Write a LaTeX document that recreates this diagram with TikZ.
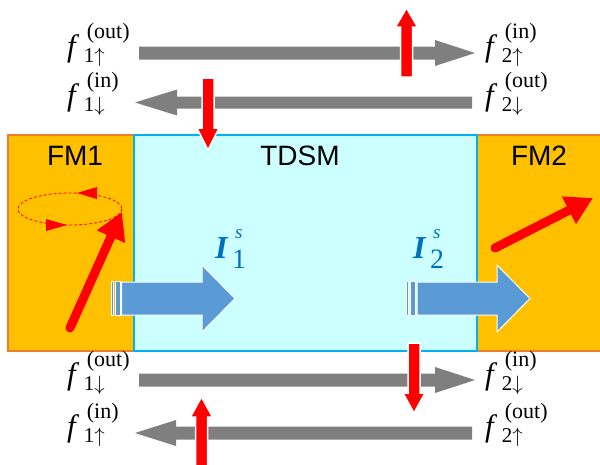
\documentclass[tikz,border=0pt]{standalone}
\usepackage{fontspec}
\setmainfont{Liberation Serif}
\newfontfamily\arialfont{Liberation Sans}
\usetikzlibrary{arrows.meta}
\definecolor{fmfill}{HTML}{FFC000}
\definecolor{fmline}{HTML}{ED7D31}
\definecolor{tdfill}{HTML}{CCFFFF}
\definecolor{tdline}{HTML}{00B0F0}
\definecolor{arrgray}{HTML}{7F7F7F}
\definecolor{spinblue}{HTML}{5B9BD5}
\definecolor{labblue}{HTML}{0070C0}
\newcommand\flab[3]{{\fontsize{31}{31}\selectfont\itshape f}\kern8pt\rlap{\kern3pt\raisebox{17.5pt}{\fontsize{22}{22}\selectfont(#1)}}\raisebox{-6pt}{\fontsize{21}{21}\selectfont #2$#3$}}
\newcommand\ilab[1]{{\fontsize{32}{32}\selectfont\bfseries\itshape I}\rlap{\kern7.5pt\raisebox{20pt}{\fontsize{19}{19}\selectfont\itshape s}}\kern4.5pt\raisebox{-10pt}{\fontsize{28}{28}\selectfont #1}}
\newcommand\vblock[5]{\filldraw[#5] ({#1-6},#2) -- ({#1-6},#3) -- ({#1-11},#3) -- (#1,#4) -- ({#1+11},#3) -- ({#1+6},#3) -- ({#1+6},#2) -- cycle;}
\newcommand\hblock[7]{\filldraw[#7] (#1,{#2-#5}) -- (#3,{#2-#5}) -- (#3,{#2-#6}) -- (#4,#2) -- (#3,{#2+#6}) -- (#3,{#2+#5}) -- (#1,{#2+#5}) -- cycle;}
\tikzset{
  fmbox/.style={fill=fmfill, draw=fmline, line width=2pt},
  tdbox/.style={fill=tdfill, draw=tdline, line width=2pt},
  boxtext/.style={font=\arialfont\fontsize{28}{28}\selectfont, inner sep=0pt},
  flabel/.style={anchor=base west, inner sep=0pt},
  ilabel/.style={anchor=base west, inner sep=0pt, text=labblue},
  grayarr/.style={fill=arrgray, draw=none},
  redblk/.style={fill=red, draw=white, line width=1.5pt},
  spinarr/.style={fill=spinblue, draw=white, line width=1pt},
  magarr/.style={draw=red, line width=9pt, line cap=round, -{Triangle[length=27pt,width=29pt]}},
  precess/.style={draw=red, line width=0.8pt, dash pattern=on 3pt off 2pt},
}
\begin{document}
\begin{tikzpicture}[x=1pt, y=-1pt]
\useasboundingbox (0,0) rectangle (600,464);
% layers
\draw[fmbox] (8,135) rectangle (134,351);
\draw[fmbox] (477,135) rectangle (606,351);
\draw[tdbox] (134,135) rectangle (477,351);
\node[boxtext] (fm1) at (75,155.5) {FM1};
\node[boxtext] (tdsm) at (300,155.5) {TDSM};
\node[boxtext] (fm2) at (539,155.5) {FM2};
% spin currents
\filldraw[spinarr] (111,281.5) rectangle (113.5,315.5);
\filldraw[spinarr] (115,281.5) rectangle (120,315.5);
\hblock{121.7}{298.5}{202}{235}{16.5}{33.5}{spinarr}
\filldraw[spinarr] (406,281.5) rectangle (408.5,315.5);
\filldraw[spinarr] (410.5,281.5) rectangle (415,315.5);
\hblock{417}{298.5}{497}{530}{16.5}{33.5}{spinarr}
\node[ilabel] (i1) at (215,258) {\ilab{1}};
\node[ilabel] (i2) at (413,258) {\ilab{2}};
% magnetizations
\draw[precess] (70,209) ellipse [x radius=52, y radius=16];
\fill[red] (77,193) -- (97,187) -- (97,199) -- cycle;
\fill[red] (67,225) -- (46,219) -- (46,231) -- cycle;
\coordinate (m1s) at (70,328);
\coordinate (m1e) at (122,212);
\draw[magarr] (m1s) -- (m1e);
\coordinate (m2s) at (495,248);
\coordinate (m2e) at (593,198);
\draw[magarr] (m2s) -- (m2e);
% gray flux arrows
\hblock{139}{53}{435}{475}{6.5}{13}{grayarr}
\hblock{472}{102.5}{177}{135}{6}{13}{grayarr}
\hblock{139}{380}{435}{475}{6.5}{13}{grayarr}
\hblock{472}{433}{176}{135}{6.5}{13}{grayarr}
% red pulses
\vblock{406.5}{77}{27}{8}{redblk}
\vblock{208}{78}{128}{150}{redblk}
\vblock{414}{343}{393}{413}{redblk}
\vblock{201.5}{466}{417}{397}{redblk}
% labels
\node[flabel] (l1) at (67,56) {\flab{out}{1}{\uparrow}};
\node[flabel] (l2) at (67,105) {\flab{in}{1}{\downarrow}};
\node[flabel] (l3) at (67,384) {\flab{out}{1}{\downarrow}};
\node[flabel] (l4) at (67,436) {\flab{in}{1}{\uparrow}};
\node[flabel] (r1) at (485,56) {\flab{in}{2}{\uparrow}};
\node[flabel] (r2) at (485,105) {\flab{out}{2}{\downarrow}};
\node[flabel] (r3) at (485,384) {\flab{in}{2}{\downarrow}};
\node[flabel] (r4) at (485,436) {\flab{out}{2}{\uparrow}};
\end{tikzpicture}
\end{document}
